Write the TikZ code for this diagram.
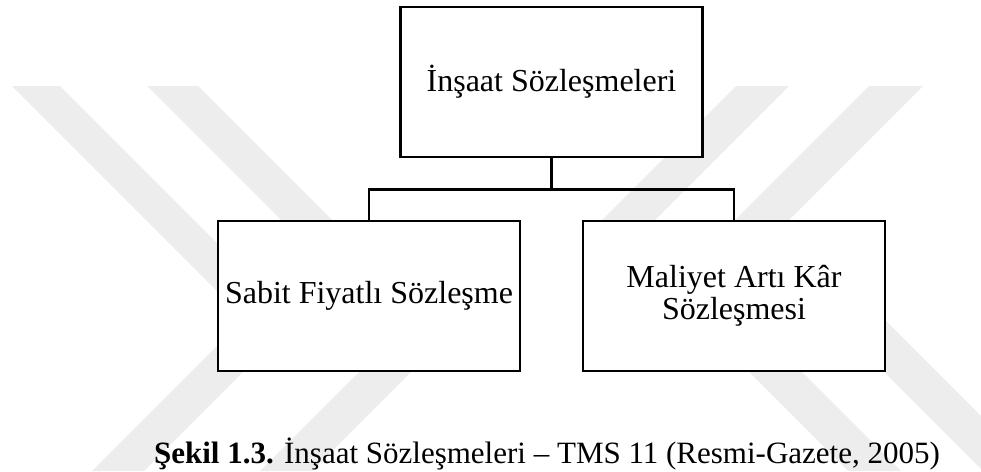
\documentclass[tikz,border=0pt]{standalone}
\usepackage{fontspec}
\setmainfont{Liberation Serif}
\definecolor{wm}{RGB}{237,237,237}
\begin{document}
\begin{tikzpicture}[x=1pt,y=-1pt,
  box/.style={draw=black, line width=2.4pt, fill=white, minimum width=302pt, minimum height=150pt, inner sep=0pt, align=center, font=\fontsize{32}{32.5}\selectfont},
  link/.style={draw=black, line width=2.4pt},
  wmband/.style={fill=wm, draw=none}]
\useasboundingbox (0,0) rectangle (981,471);
\begin{scope}
  \clip (0,0) rectangle (981,471);
  % faint watermark chevrons
  \path[wmband] (12,86) -- (60,86) -- (294.5,320.5) -- (144,471) -- (92,471) -- (244.5,318.5) -- cycle;
  \path[wmband] (147,86) -- (198,86) -- (447.5,335.5) -- (312,471) -- (260,471) -- (396,335) -- cycle;
  \path[wmband] (869,86) -- (923,86) -- (787,222) -- (1036,471) -- (983,471) -- (733.5,221.5) -- cycle;
  \path[wmband] (736,86) -- (789,86) -- (652.5,222.5) -- (901,471) -- (848,471) -- (599.5,222.5) -- cycle;
\end{scope}
\node[box] (top) at (551.5,81.7) {İnşaat Sözleşmeleri};
\node[box] (left) at (369,295.9) {Sabit Fiyatlı Sözleşme};
\node[box] (right) at (734,295.9) {Maliyet Artı Kâr\\Sözleşmesi};
\coordinate (mid) at (551.5,189.3);
\draw[link] (top.south) -- (mid);
\draw[link] (left.north) |- (mid) -| (right.north);
\node[anchor=base, font=\fontsize{31}{31}\selectfont, inner sep=0pt] (caption) at (547,463.5) {\textbf{Şekil 1.3.} İnşaat Sözleşmeleri – TMS 11 (Resmi-Gazete, 2005)};
\end{tikzpicture}
\end{document}
